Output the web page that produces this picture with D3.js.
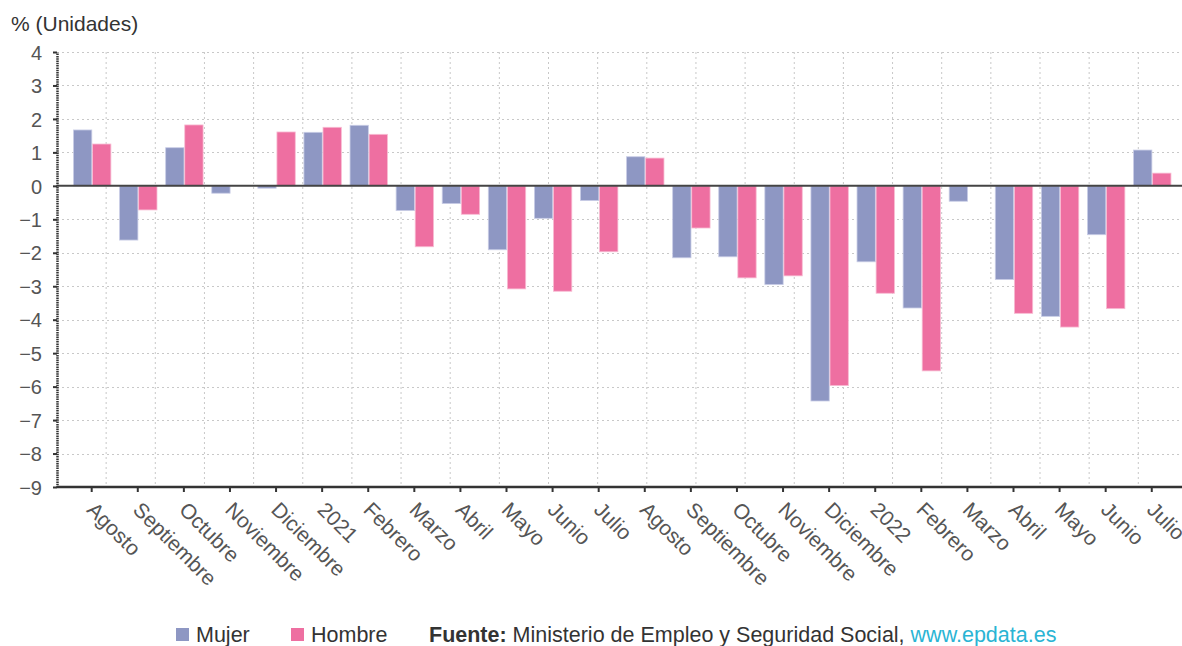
<!DOCTYPE html>
<html><head><meta charset="utf-8">
<script src="https://cdn.jsdelivr.net/npm/d3@7/dist/d3.min.js"></script>
<style>
body{margin:0;background:#fff;}
svg{font-family:"Liberation Sans",Arial,sans-serif;}
</style></head>
<body><svg id="c" width="1182" height="646"></svg>
<script>
const categories = ["Agosto","Septiembre","Octubre","Noviembre","Diciembre","2021","Febrero","Marzo","Abril","Mayo","Junio","Julio","Agosto","Septiembre","Octubre","Noviembre","Diciembre","2022","Febrero","Marzo","Abril","Mayo","Junio","Julio"];
const mujer = [1.67,-1.62,1.14,-0.22,-0.07,1.60,1.81,-0.74,-0.53,-1.91,-0.97,-0.44,0.87,-2.15,-2.12,-2.95,-6.43,-2.27,-3.65,-0.46,-2.80,-3.90,-1.46,1.07];
const hombre = [1.25,-0.72,1.82,0,1.61,1.75,1.54,-1.82,-0.85,-3.08,-3.15,-1.97,0.83,-1.26,-2.75,-2.69,-5.97,-3.21,-5.53,0,-3.81,-4.22,-3.67,0.38];
const yTicks = [4,3,2,1,0,-1,-2,-3,-4,-5,-6,-7,-8,-9];
const seriesNames = ["Mujer","Hombre"];
const colors = {Mujer:"#8e97c3", Hombre:"#ee6fa1"};
const strokes = {Mujer:"#c9cde6", Hombre:"#f8bcd3"};

const svg = d3.select("#c");
const mLeft = 57, mRight = 1182, mTop = 52, mBottom = 487;
const y = d3.scaleLinear().domain([-9,4]).range([mBottom, mTop]);
const idx = d3.range(categories.length);
const x0 = d3.scaleBand().domain(idx).range([68.65, 68.65 + 46.09*24]).padding(0);
const x1 = d3.scaleBand().domain(seriesNames).range([0, 37.4]).paddingInner(0.04);

// vertical gridlines
const gridStep = 49.15;
const gx = d3.range(1, 23).map(k => mLeft + k*gridStep);
svg.append("g").selectAll("line").data(gx).join("line")
  .attr("x1", d=>d).attr("x2", d=>d).attr("y1", mTop).attr("y2", mBottom)
  .attr("stroke","#c8c8c8").attr("stroke-dasharray","2,3").attr("stroke-width",1);
// horizontal gridlines
svg.append("g").selectAll("line").data(yTicks.filter(d=>d!==0 && d!==-9)).join("line")
  .attr("x1", mLeft).attr("x2", mRight).attr("y1", d=>Math.round(y(d))+0.5).attr("y2", d=>Math.round(y(d))+0.5)
  .attr("stroke","#c8c8c8").attr("stroke-dasharray","2,3").attr("stroke-width",1);

// bars
const groups = svg.append("g").selectAll("g").data(idx).join("g")
  .attr("transform", d => `translate(${x0(d) + x0.bandwidth()/2 - 18.2},0)`);
groups.selectAll("rect").data(i => [{s:"Mujer",v:mujer[i]},{s:"Hombre",v:hombre[i]}]).join("rect")
  .attr("x", d => x1(d.s))
  .attr("width", x1.bandwidth())
  .attr("y", d => y(Math.max(0,d.v)))
  .attr("height", d => Math.abs(y(d.v)-y(0)))
  .attr("fill", d => colors[d.s])
  .attr("stroke", d => d.v===0 ? "none" : strokes[d.s])
  .attr("stroke-width", 0.8);

// zero line
svg.append("line").attr("x1", mLeft).attr("x2", mRight).attr("y1", y(0)).attr("y2", y(0))
  .attr("stroke","#444").attr("stroke-width",2);

// y axis
const yAxis = svg.append("g").attr("transform",`translate(${mLeft},0)`)
  .call(d3.axisLeft(y).tickValues(yTicks).tickSize(4).tickSizeOuter(0).tickFormat(d3.format("d")));
yAxis.select(".domain").attr("stroke","#333").attr("stroke-width",2.5).attr("stroke-dasharray","1.5,0.8");
yAxis.selectAll(".tick line").attr("stroke","#333").attr("stroke-width",2);
yAxis.selectAll("text").attr("font-size",20).attr("fill","#555").attr("x",-15).attr("dy","0.36em");

// x axis
const xAxis = svg.append("g").attr("transform",`translate(0,${mBottom})`)
  .call(d3.axisBottom(x0).tickSize(5).tickSizeOuter(0).tickFormat(i => categories[i]));
xAxis.select(".domain").attr("stroke","#333").attr("stroke-width",2.5).attr("d",`M${mLeft},0H${mRight}`);
xAxis.selectAll(".tick line").attr("stroke","#333").attr("stroke-width",2);
xAxis.selectAll("text").attr("font-size",21).attr("fill","#555")
  .attr("text-anchor","start").attr("dy",0).attr("y",0)
  .attr("transform","translate(-6,24) rotate(45)");

// title
svg.append("text").attr("x",11).attr("y",31).attr("font-size",21).attr("fill","#333").text("% (Unidades)");

// legend
const lg = svg.append("g").attr("font-size",21.5);
const lgItems = [{n:"Mujer",x:176},{n:"Hombre",x:291}];
lgItems.forEach(it => {
  lg.append("rect").attr("x",it.x).attr("y",628).attr("width",13).attr("height",13).attr("fill",colors[it.n]);
  lg.append("text").attr("x",it.x+20).attr("y",642).attr("fill","#333").text(it.n);
});
const src = lg.append("text").attr("x",429).attr("y",642).attr("fill","#333");
src.append("tspan").attr("font-weight","bold").text("Fuente:");
src.append("tspan").text(" Ministerio de Empleo y Seguridad Social, ");
src.append("tspan").attr("fill","#2ab4d4").text("www.epdata.es");
</script></body></html>
